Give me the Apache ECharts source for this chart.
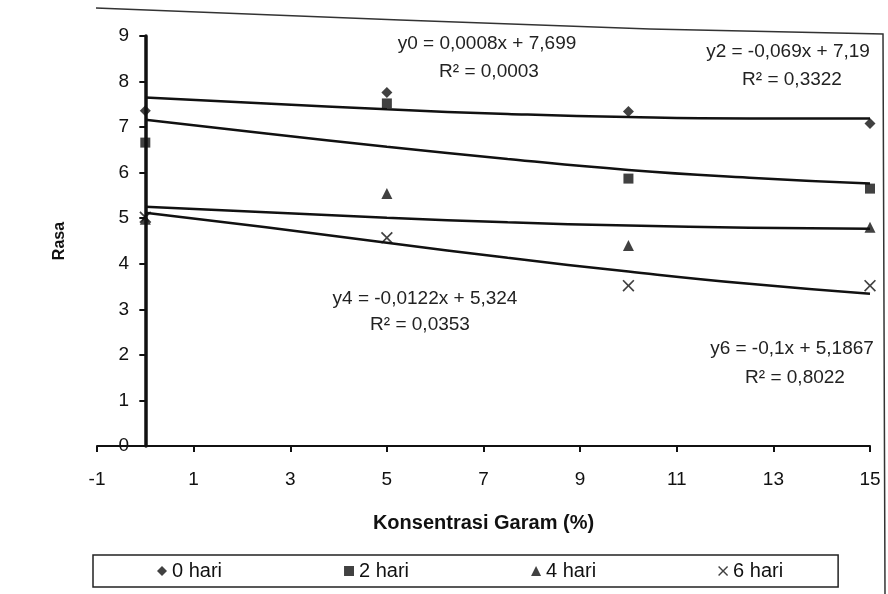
<!DOCTYPE html>
<html>
<head>
<meta charset="utf-8">
<script src="https://cdn.jsdelivr.net/npm/echarts@6/dist/echarts.min.js"></script>
<style>
  html, body { margin: 0; padding: 0; background: #fff; }
  #chart { width: 888px; height: 594px; }
</style>
</head>
<body>
<div id="chart"></div>
<script>
// Salt concentration (%) of each sample
const konsentrasi = [0, 5, 10, 15];

// Taste (rasa) scores per storage day
const hari0 = [7.36, 7.76, 7.34, 7.08];
const hari2 = [6.66, 7.52, 5.87, 5.65];
const hari4 = [4.98, 5.54, 4.40, 4.80];
const hari6 = [5.02, 4.57, 3.52, 3.52];

// Fitted trend curves, sampled along the concentration range
const trendX = [0, 2.5, 5, 7.5, 10, 12.5, 15];
const trend0 = [7.65, 7.52, 7.39, 7.29, 7.22, 7.19, 7.19];
const trend2 = [7.16, 6.86, 6.57, 6.30, 6.06, 5.89, 5.76];
const trend4 = [5.25, 5.13, 5.01, 4.91, 4.84, 4.79, 4.77];
const trend6 = [5.12, 4.80, 4.46, 4.13, 3.83, 3.56, 3.34];

const seriesNames = ['0 hari', '2 hari', '4 hari', '6 hari'];

// Fit equations printed on the plot
const equations = [
  { eq: 'y0 = 0,0008x + 7,699', r2: 'R\u00B2 = 0,0003', x: 487, y: 44, rx: 489, ry: 72 },
  { eq: 'y2 = -0,069x + 7,19', r2: 'R\u00B2 = 0,3322', x: 788, y: 52, rx: 792, ry: 80 },
  { eq: 'y4 = -0,0122x + 5,324', r2: 'R\u00B2 = 0,0353', x: 425, y: 299, rx: 420, ry: 325 },
  { eq: 'y6 = -0,1x + 5,1867', r2: 'R\u00B2 = 0,8022', x: 792, y: 349, rx: 795, ry: 378 }
];

const FONT = '"Liberation Sans", Arial, sans-serif';
const INK = '#111';

const pairs = (xs, ys) => xs.map((x, i) => [x, ys[i]]);

const crossPath = 'path://M0,1 L1,0 L5,4 L9,0 L10,1 L6,5 L10,9 L9,10 L5,6 L1,10 L0,9 L4,5 Z';
const symbols = ['diamond', 'rect', 'triangle', crossPath];
const symbolSizes = [11, 10, 11, 12];
const values = [hari0, hari2, hari4, hari6];
const trends = [trend0, trend2, trend4, trend6];

const series = [];
trends.forEach(t => {
  series.push({
    type: 'line',
    data: pairs(trendX, t),
    smooth: true,
    showSymbol: false,
    silent: true,
    lineStyle: { color: INK, width: 2.5 },
    z: 2
  });
});
values.forEach((v, i) => {
  series.push({
    name: seriesNames[i],
    type: 'scatter',
    data: pairs(konsentrasi, v),
    symbol: symbols[i],
    symbolSize: symbolSizes[i],
    itemStyle: { color: INK },
    z: 3
  });
});

const graphics = [];
equations.forEach(e => {
  graphics.push({
    type: 'text', x: e.x, y: e.y,
    style: { text: e.eq, font: '19px ' + FONT, fill: '#222', textAlign: 'center', textVerticalAlign: 'middle' }
  });
  graphics.push({
    type: 'text', x: e.rx, y: e.ry,
    style: { text: e.r2, font: '19px ' + FONT, fill: '#222', textAlign: 'center', textVerticalAlign: 'middle' }
  });
});
// outer frame of the figure (top and right edge)
graphics.push({
  type: 'polyline',
  shape: { points: [[96, 8], [400, 20], [650, 29], [883, 34], [885, 594]] },
  style: { stroke: '#333', lineWidth: 1.5, fill: null },
  silent: true
});

const chart = echarts.init(document.getElementById('chart'), null, { renderer: 'canvas' });
chart.setOption({
  backgroundColor: '#fff',
  animation: false,
  grid: { left: 97, right: 18, top: 36, bottom: 148, containLabel: false },
  xAxis: {
    type: 'value',
    min: -1, max: 15, interval: 2,
    name: 'Konsentrasi Garam (%)',
    nameLocation: 'middle',
    nameGap: 67,
    nameTextStyle: { fontFamily: FONT, fontSize: 20, fontWeight: 'bold', color: INK },
    axisLine: { onZero: true, lineStyle: { color: INK, width: 2 } },
    axisTick: { show: true, inside: false, length: 6, lineStyle: { color: INK, width: 2 } },
    axisLabel: { fontFamily: FONT, fontSize: 19, color: INK, margin: 24 },
    splitLine: { show: false }
  },
  yAxis: {
    type: 'value',
    min: 0, max: 9, interval: 1,
    name: 'Rasa',
    nameLocation: 'middle',
    nameGap: 29,
    nameRotate: 90,
    nameTextStyle: { fontFamily: FONT, fontSize: 16, fontWeight: 'bold', color: INK },
    axisLine: { onZero: true, lineStyle: { color: INK, width: 3.5 } },
    axisTick: { show: true, inside: false, length: 6, lineStyle: { color: INK, width: 2 } },
    axisLabel: { fontFamily: FONT, fontSize: 19, color: INK, margin: -32 },
    splitLine: { show: false }
  },
  legend: {
    data: seriesNames,
    left: 93, top: 555,
    orient: 'horizontal',
    itemGap: 122,
    itemWidth: 10, itemHeight: 10,
    padding: [6, 55, 6, 64],
    borderColor: '#222',
    borderWidth: 1.5,
    textStyle: { fontFamily: FONT, fontSize: 20, color: INK }
  },
  graphic: graphics,
  series: series
});
</script>
</body>
</html>
